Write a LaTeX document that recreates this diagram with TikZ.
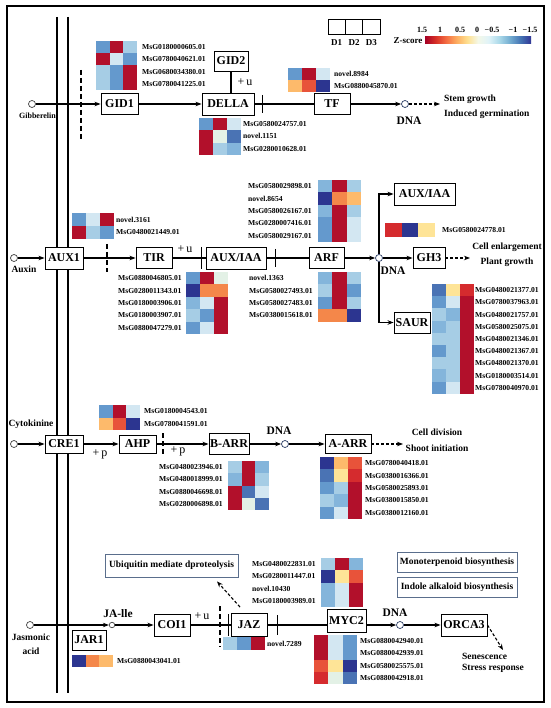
\documentclass[tikz,border=0pt]{standalone}
\usepackage{fontspec}
\setmainfont{Liberation Serif}
\usepackage{tikz}
\usetikzlibrary{arrows.meta}

\definecolor{zDR}{HTML}{B2102B}
\definecolor{zR}{HTML}{D52B2E}
\definecolor{zOR}{HTML}{E8533A}
\definecolor{zO}{HTML}{F4874A}
\definecolor{zLO}{HTML}{FDBA6B}
\definecolor{zLY}{HTML}{FEE497}
\definecolor{zPG}{HTML}{E3F1E6}
\definecolor{zPB}{HTML}{D3E7F2}
\definecolor{zLB}{HTML}{A6CDE5}
\definecolor{zLM}{HTML}{84B5DB}
\definecolor{zMB}{HTML}{6499CD}
\definecolor{zMD}{HTML}{4A73B4}
\definecolor{zDB}{HTML}{2C3590}
\definecolor{zFrame}{HTML}{5A6E8C}
\definecolor{zDot}{HTML}{2A3C64}
\definecolor{zsA}{HTML}{A50026}
\definecolor{zsB}{HTML}{D73027}
\definecolor{zsC}{HTML}{F46D43}
\definecolor{zsD}{HTML}{FDAE61}
\definecolor{zsE}{HTML}{FEE090}
\definecolor{zsF}{HTML}{F4F8E8}
\definecolor{zsG}{HTML}{E0F3F8}
\definecolor{zsH}{HTML}{ABD9E9}
\definecolor{zsI}{HTML}{74ADD1}
\definecolor{zsJ}{HTML}{4575B4}
\definecolor{zsK}{HTML}{313695}

\pgfdeclarehorizontalshading{zscore}{100bp}{color(0bp)=(zsA); color(25bp)=(zsA); color(30bp)=(zsB); color(35bp)=(zsC); color(40bp)=(zsD); color(45bp)=(zsE); color(50bp)=(zsF); color(55bp)=(zsG); color(60bp)=(zsH); color(65bp)=(zsI); color(70bp)=(zsJ); color(75bp)=(zsK); color(100bp)=(zsK)}

\newcommand{\heatmap}[5]{%
  \foreach \cells [count=\r from 0] in {#5}{%
    \foreach \c [count=\k from 0] in \cells
      \fill[\c] ({#1+#3*\k},{#2+#4*\r}) rectangle ++(#3,#4);
  }%
}

\begin{document}
\begin{tikzpicture}[x=1pt,y=-1pt,
  box/.style={draw, fill=white, line width=0.9pt, inner sep=0pt, minimum height=21pt, font=\bfseries\fontsize{12}{14}\selectfont},
  note/.style={draw=zFrame, fill=white, line width=0.8pt, inner sep=0pt, font=\bfseries\fontsize{9.5}{11}\selectfont},
  gene/.style={anchor=west, align=left, inner sep=0pt, font=\bfseries\fontsize{7.6}{12.3}\selectfont},
  txt/.style={inner sep=0pt, font=\bfseries\fontsize{9.5}{15}\selectfont},
  dnalab/.style={inner sep=0pt, font=\bfseries\fontsize{11.5}{13}\selectfont},
  plus/.style={inner sep=0pt, font=\fontsize{12}{14}\selectfont},
  hdot/.style={circle, draw=black!75, fill=white, line width=0.7pt, inner sep=0pt, minimum size=7pt},
  ddot/.style={circle, draw=zDot, fill=white, line width=0.7pt, inner sep=0pt, minimum size=7pt},
  ln/.style={line width=1.1pt},
  arr/.style={ln, -{Stealth[length=6pt, width=4.5pt]}},
  darr/.style={arr, dash pattern=on 3pt off 2pt},
  wall/.style={line width=1.4pt, dash pattern=on 5pt off 3pt}]
\useasboundingbox (0,0) rectangle (550,708);
\draw[line width=1.3pt] (7,6) rectangle (544,702);
\draw[line width=2.6pt] (57,17) -- (57,693);
\draw[line width=2.6pt] (68,17) -- (68,693);

\draw[line width=0.7pt] (328,19) rectangle ++(17.3,15);
\draw[line width=0.7pt] (345.3,19) rectangle ++(17.3,15);
\draw[line width=0.7pt] (362.6,19) rectangle ++(17.3,15);
\node[txt, font=\bfseries\fontsize{9}{11}\selectfont] (d1) at (336.7,43) {D1};
\node[txt, font=\bfseries\fontsize{9}{11}\selectfont] (d2) at (354,43) {D2};
\node[txt, font=\bfseries\fontsize{9}{11}\selectfont] (d3) at (371.3,43) {D3};
\shade[shading=zscore] (425,37) rectangle (531,44);
\node[txt, font=\bfseries\fontsize{9}{11}\selectfont] (zlab) at (408,41) {Z-score};
\node[txt, font=\bfseries\fontsize{8}{10}\selectfont] (z1) at (422,30) {1.5};
\node[txt, font=\bfseries\fontsize{8}{10}\selectfont] (z2) at (440,30) {1};
\node[txt, font=\bfseries\fontsize{8}{10}\selectfont] (z3) at (460,30) {0.5};
\node[txt, font=\bfseries\fontsize{8}{10}\selectfont] (z4) at (477,30) {0};
\node[txt, font=\bfseries\fontsize{8}{10}\selectfont] (z5) at (492,30) {−0.5};
\node[txt, font=\bfseries\fontsize{8}{10}\selectfont] (z6) at (513,30) {−1};
\node[txt, font=\bfseries\fontsize{8}{10}\selectfont] (z7) at (530,30) {−1.5};

\node[hdot] (gib) at (32,104) {};
\node[txt, font=\bfseries\fontsize{8}{10}\selectfont] (giblab) at (37.5,116) {Gibberelin};
\draw[wall] (81,70) -- (81,139);
\node[box, minimum width=37pt] (gid1) at (119.5,104) {GID1};
\node[box, minimum width=52pt, minimum height=22pt] (della) at (228,104) {DELLA};
\node[box, minimum width=34pt, minimum height=20pt] (gid2) at (231,61) {GID2};
\node[box, minimum width=36pt] (tf) at (332,104) {TF};
\node[ddot] (gdna) at (405,104) {};
\node[dnalab] (gdnalab) at (409,121) {DNA};
\coordinate (gend) at (440,104);
\node[txt, anchor=west, align=left] (gout) at (444,106.5) {Stem growth\\Induced germination};
\draw[arr] (gib) -- (gid1);
\draw[arr] (gid1) -- (della);
\draw[ln] (gid2) -- (gid2 |- della.north);
\node[plus] (gu) at (245,82) {+\,u};
\draw[ln] (della) -- (tf);
\draw[ln] ([xshift=8pt]della.east) ++(0,-9) -- ++(0,18);
\draw[arr] (tf) -- (gdna);
\draw[darr] (gdna) -- (gend);
\heatmap{96}{41}{13.7}{12.25}{{zMB,zDR,zLB},{zDR,zPB,zMB},{zLB,zMB,zDR},{zLB,zMB,zDR}}
\node[gene] (gid1g) at (142,65.5) {MsG0180000605.01\\MsG0780040621.01\\MsG0680034380.01\\MsG0780041225.01};
\heatmap{199}{118}{14}{12.3}{{zMB,zDR,zPB},{zDR,zPG,zMD},{zDR,zLB,zLM}}
\node[gene] (dellag) at (243,136.5) {MsG0580024757.01\\novel.1151\\MsG0280010628.01};
\heatmap{288}{68}{14}{12}{{zMB,zDR,zPB},{zLO,zOR,zDB}}
\node[gene] (tfg) at (334,80) {novel.8984\\MsG0880045870.01};

\node[hdot] (aux) at (14,258) {};
\node[txt] (auxlab) at (24,269) {Auxin};
\node[box, minimum width=38pt, minimum height=22pt] (aux1) at (64,258) {AUX1};
\draw[wall] (107,244) -- (107,272);
\node[box, minimum width=36pt] (tir) at (154,258) {TIR};
\node[box, minimum width=60pt, minimum height=22pt] (iaa) at (236,258) {AUX/IAA};
\node[box, minimum width=35pt] (arf) at (326.5,258) {ARF};
\node[ddot] (adna) at (379,258) {};
\node[dnalab] (adnalab) at (393,271) {DNA};
\node[box, minimum width=61pt, minimum height=22pt] (iaa2) at (424.5,194) {AUX/IAA};
\node[box, minimum width=32pt] (gh3) at (429,258) {GH3};
\node[box, minimum width=36pt] (saur) at (412,322.5) {SAUR};
\coordinate (aend) at (470,258);
\node[txt, align=center] (aout) at (507,255) {Cell enlargement\\Plant growth};
\draw[arr] (aux) -- (aux1);
\draw[arr] (aux1) -- (tir);
\node[plus] (tu) at (185,249) {+\,u};
\draw[ln] (tir) -- (iaa);
\draw[ln] ([xshift=-4pt]iaa.west) ++(0,-11) -- ++(0,22);
\draw[ln] (iaa) -- (arf);
\draw[ln] ([xshift=9pt]iaa.east) ++(0,-9) -- ++(0,18);
\draw[arr] (arf) -- (adna);
\draw[arr] (adna) |- (iaa2);
\draw[arr] (adna) -- (gh3);
\draw[arr] (adna) |- (saur);
\draw[darr] (gh3) -- (aend);
\heatmap{72}{213}{14}{13}{{zMB,zPB,zDR},{zDR,zLB,zMB}}
\node[gene] (aux1g) at (116,226) {novel.3161\\MsG0480021449.01};
\heatmap{186}{272}{14}{12.4}{{zMB,zDR,zPG},{zDB,zO,zO},{zLM,zPB,zDR},{zLB,zMB,zDR},{zMB,zPB,zDR}}
\node[gene] (tirg) at (118,303) {MsG0880046805.01\\MsG0280011343.01\\MsG0180003906.01\\MsG0180003907.01\\MsG0880047279.01};
\heatmap{318}{180}{14.3}{12.4}{{zLM,zDR,zLB},{zDB,zO,zLO},{zLM,zDR,zLB},{zMB,zDR,zPB},{zMB,zDR,zPB}}
\node[gene] (arfg1) at (248,211) {MsG0580029898.01\\novel.8654\\MsG0580026167.01\\MsG0280007416.01\\MsG0580029167.01};
\heatmap{318}{272}{14.3}{12.4}{{zLM,zDR,zLB},{zLB,zDR,zMB},{zMB,zDR,zLB},{zO,zO,zDB}}
\node[gene] (arfg2) at (249,296.8) {novel.1363\\MsG0580027493.01\\MsG0580027483.01\\MsG0380015618.01};
\heatmap{385}{223}{16.7}{14}{{zR,zDB,zLY}}
\node[gene] (gh3g) at (442,230) {MsG0580024778.01};
\heatmap{432}{284}{14}{12.2}{{zMD,zLY,zR},{zMB,zPB,zDR},{zLB,zLM,zDR},{zLM,zLB,zDR},{zLB,zLB,zDR},{zMB,zLB,zDR},{zLB,zLB,zDR},{zLM,zLB,zDR},{zMB,zPB,zDR}}
\node[gene, font=\bfseries\fontsize{7.6}{12.2}\selectfont] (saurg) at (475,339) {MsG0480021377.01\\MsG0780037963.01\\MsG0480021757.01\\MsG0580025075.01\\MsG0480021346.01\\MsG0480021367.01\\MsG0480021370.01\\MsG0180003514.01\\MsG0780040970.01};

\node[hdot] (cyt) at (14,444) {};
\node[txt] (cytlab) at (31,424) {Cytokinine};
\node[box, minimum width=38pt, minimum height=18pt] (cre1) at (64,444) {CRE1};
\node[box, minimum width=37pt, minimum height=18pt] (ahp) at (137.5,444) {AHP};
\draw[wall] (163,433) -- (163,456);
\node[box, minimum width=40pt] (barr) at (229,444) {B-ARR};
\node[ddot] (cdna) at (285,444) {};
\node[dnalab] (cdnalab) at (279,431) {DNA};
\node[box, minimum width=46pt, minimum height=19pt] (aarr) at (348,444) {A-ARR};
\coordinate (cend) at (403,444);
\node[txt, align=center, font=\bfseries\fontsize{9.5}{16}\selectfont] (cout) at (437,440) {Cell division\\Shoot initiation};
\draw[arr] (cyt) -- (cre1);
\draw[arr] (cre1) -- (ahp);
\node[plus] (cp1) at (100,454) {+\,p};
\draw[arr] (ahp) -- (barr);
\node[plus] (cp2) at (178,451) {+\,p};
\draw[arr] (barr) -- (cdna);
\draw[arr] (cdna) -- (aarr);
\draw[darr] (aarr) -- (cend);
\heatmap{99}{405}{13.7}{12.5}{{zMB,zDR,zPB},{zLO,zOR,zDB}}
\node[gene] (ahpg) at (144,417.5) {MsG0180004543.01\\MsG0780041591.01};
\heatmap{228}{461}{13.7}{12.3}{{zLB,zDR,zLM},{zLM,zDR,zLB},{zDR,zMD,zPB},{zDR,zPG,zMD}}
\node[gene] (barrg) at (159,485.6) {MsG0480023946.01\\MsG0480018999.01\\MsG0880046698.01\\MsG0280006898.01};
\heatmap{320}{457}{14}{12.4}{{zDB,zLO,zOR},{zMD,zLY,zR},{zMB,zLB,zDR},{zLB,zLM,zDR},{zMB,zPB,zDR}}
\node[gene] (aarrg) at (365,488) {MsG0780040418.01\\MsG0380016366.01\\MsG0580025893.01\\MsG0380015850.01\\MsG0380012160.01};

\node[hdot] (jas) at (30,625) {};
\node[txt, align=center, font=\bfseries\fontsize{9.5}{14}\selectfont] (jaslab) at (31,644) {Jasmonic\\acid};
\node[hdot, minimum size=5.5pt] (jaile) at (112,625) {};
\node[dnalab] (jailelab) at (118,614) {JA-lle};
\node[box, minimum width=34pt, minimum height=20pt] (jar1) at (89,640) {JAR1};
\node[box, minimum width=36pt, minimum height=22pt] (coi1) at (172,625) {COI1};
\draw[wall] (220,606) -- (220,647);
\node[box, minimum width=36pt, minimum height=23pt] (jaz) at (249,625) {JAZ};
\node[note, minimum width=133pt, minimum height=23pt] (ubq) at (171.5,565.5) {Ubiquitin mediate dproteolysis};
\node[box, minimum width=39pt, minimum height=23pt] (myc2) at (346.5,621) {MYC2};
\node[ddot] (jdna) at (400,625) {};
\node[dnalab] (jdnalab) at (395,613) {DNA};
\node[box, minimum width=46pt, minimum height=22pt] (orca3) at (464,625) {ORCA3};
\coordinate (jend) at (503,650);
\node[txt, anchor=north west, align=left, font=\bfseries\fontsize{9.5}{10.8}\selectfont] (jout) at (462,653) {Senescence\\Stress response};
\node[note, minimum width=120pt, minimum height=20pt] (mono) at (457,562) {Monoterpenoid biosynthesis};
\node[note, minimum width=120pt, minimum height=20pt] (indole) at (457,587) {Indole alkaloid biosynthesis};
\draw[arr] (jas) -- (jaile);
\draw[arr] (jaile) -- (coi1);
\node[plus] (ju) at (202,616) {+\,u};
\draw[ln] (coi1) -- (jaz);
\draw[ln] ([xshift=-2pt]jaz.west) ++(0,-11) -- ++(0,22);
\draw[ln] (jaz) -- (jaz -| myc2.west);
\draw[ln] ([xshift=10pt]jaz.east) ++(0,-10) -- ++(0,20);
\draw[darr] ([shift={(-9pt,6pt)}]jaz.north) -- ([shift={(45.5pt,-4pt)}]ubq.south);
\draw[arr] (jdna -| myc2.east) -- (jdna);
\draw[arr] (jdna) -- (orca3);
\draw[darr] (orca3.east) -- (jend);
\heatmap{72}{655}{13.7}{12}{{zDB,zO,zLO}}
\node[gene] (jar1g) at (117,661) {MsG0880043041.01};
\heatmap{223}{637}{14}{13}{{zLB,zMB,zDR}}
\node[gene] (jazg) at (267,644) {novel.7289};
\heatmap{321}{558}{14}{12.3}{{zLB,zDR,zLM},{zDB,zLY,zOR},{zLM,zPB,zDR},{zLM,zPB,zDR}}
\node[gene] (myc2g1) at (252,582.6) {MsG0480022831.01\\MsG0280011447.01\\novel.10430\\MsG0180003989.01};
\heatmap{314}{635}{14.3}{12.3}{{zDR,zPB,zMB},{zDR,zPB,zMB},{zOR,zLY,zDB},{zR,zPG,zMD}}
\node[gene] (myc2g2) at (360,659.6) {MsG0880042940.01\\MsG0880042939.01\\MsG0580025575.01\\MsG0880042918.01};
\end{tikzpicture}
\end{document}
